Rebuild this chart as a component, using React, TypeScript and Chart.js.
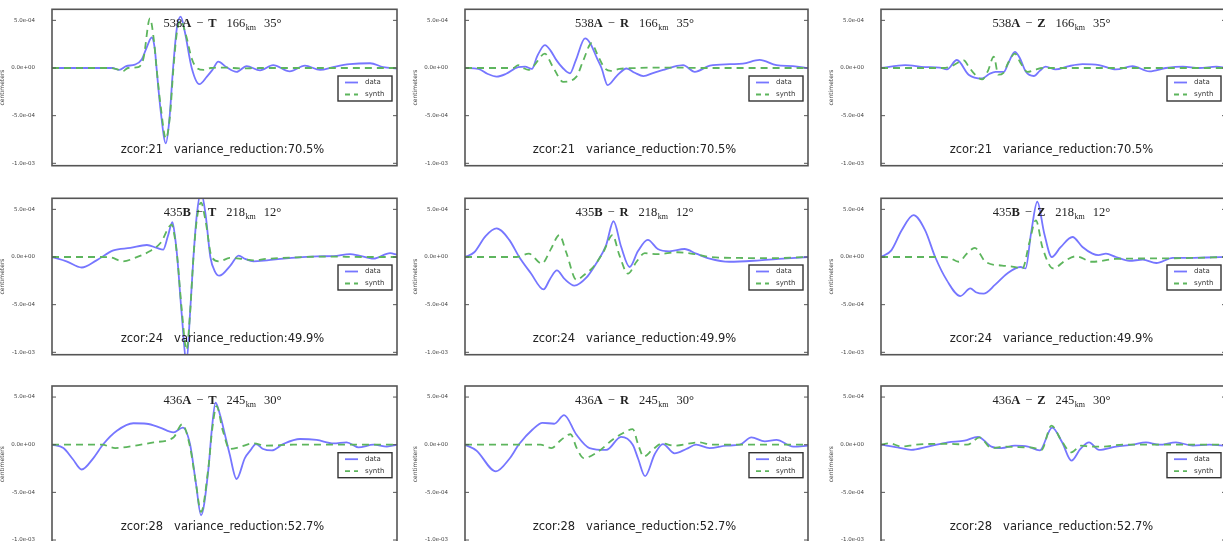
import React, { useEffect, useRef } from "react";
import { Chart, registerables } from "chart.js";

Chart.register(...registerables);

type Pt = [number, number];

// ---- text / labels -------------------------------------------------------
const STATION_NUMS = ["538", "435", "436"];
const STATION_LETTERS = ["A", "B", "A"];
const COMPONENTS = ["T", "R", "Z"];
const DISTANCES_KM = [166, 218, 245];
const AZIMUTHS_DEG = [35, 12, 30];
const ZCOR = [21, 24, 28];
const VARIANCE_REDUCTION = ["70.5", "49.9", "52.7"];
const SERIES_LABELS = ["data", "synth"];
const Y_LABEL = "centimeters";
const Y_TICKS = [5e-4, 0, -5e-4, -1e-3];
const Y_MIN = -1.025e-3;
const Y_MAX = 6.16e-4;

// ---- traces: [time (% of window), amplitude (1e-4)] ----------------------
const S538A_T_DATA: Pt[] = [[0,0],[12,0],[17.5,0],[19.5,-0.2],[21.5,0.2],[24,0.35],[26,0.9],[27.5,2.2],[28.9,3.2],[29.8,2.0],[30.3,0],[31.5,-4.5],[33,-7.9],[34,-5.5],[35.1,0],[36.2,4.2],[37.3,5.4],[38.5,3.8],[40.5,0],[42.7,-1.7],[44.9,-0.9],[46.5,-0.2],[48.2,0.66],[50.5,0.1],[53.5,-0.4],[56.4,0.2],[60.3,-0.25],[64.1,0.3],[68.9,-0.35],[73.3,0.25],[77.7,-0.2],[81.5,0.1],[86.3,0.4],[92.2,0.5],[96,0.1],[100,-0.05]];
const S538A_T_SYNTH: Pt[] = [[0,0],[17,0],[19,-0.15],[20.5,-0.35],[22,0],[25,0.1],[26.5,1.0],[28.4,5.2],[29.5,3.0],[30.3,0],[31.5,-4],[33,-7.4],[34.2,-5],[35.2,0],[36.3,4.0],[37.3,5.0],[38.8,3.5],[40.5,1.0],[42,0],[44,-0.2],[46,0],[50,0.05],[55,-0.05],[60,0],[100,0]];
const S538A_R_DATA: Pt[] = [[0,0],[3.9,-0.1],[6.5,-0.6],[9.2,-0.9],[12,-0.6],[15.5,0.1],[17.5,0.15],[19.5,-0.1],[21,1.2],[23.3,2.4],[25,1.8],[26.7,0.8],[28.5,0],[30.6,-0.56],[32.3,0.8],[35,3.1],[36.5,2.6],[38.5,1.0],[39.8,0],[41.6,-1.8],[44.2,-0.85],[47.1,-0.05],[49.5,-0.5],[52,-0.85],[55,-0.5],[57.8,-0.2],[60.5,0.1],[63.6,0.3],[67,-0.4],[71.4,0.25],[77.2,0.4],[81,0.45],[85.9,0.85],[90.8,0.3],[95.6,0.2],[100,0]];
const S538A_R_SYNTH: Pt[] = [[0,0],[14,0],[15.5,0.3],[17,0],[18.5,-0.2],[20,0.2],[23.3,1.5],[25.5,0.2],[28.7,-1.45],[32.5,-0.9],[34.5,0.8],[36.9,2.6],[38.5,1.5],[40.7,0],[42.5,-0.3],[45,-0.1],[50,0],[60,0.05],[70,0],[100,0]];
const S538A_Z_DATA: Pt[] = [[0,0],[7,0.3],[12.8,0.1],[17,0.05],[19.1,-0.15],[22,0.84],[25.4,-0.7],[29.3,-1.1],[31.5,-0.6],[33.2,-0.4],[35.6,-0.4],[37,0.6],[38.8,1.7],[40.3,1.0],[42,-0.4],[44.3,-0.84],[46,-0.3],[47.7,0.15],[50.6,-0.15],[54.5,0.2],[58.4,0.4],[63.2,0.3],[68.1,-0.15],[72.9,0.2],[77.8,-0.35],[82.6,0],[87.5,0.15],[92.3,0],[97.2,0.15],[100,0]];
const S538A_Z_SYNTH: Pt[] = [[0,0],[18,0],[20.5,0.2],[22,0.5],[24,0.8],[25.5,0.1],[27,-0.6],[29.3,-1.2],[31,-0.3],[32.7,1.2],[34,-0.7],[35.5,-0.5],[36.8,0.5],[38.8,1.5],[40.5,0.5],[42.5,-0.4],[44.5,-0.2],[47,0],[55,0],[100,0]];

const S435B_T_DATA: Pt[] = [[0,0],[4.2,-0.45],[8.6,-1.1],[12.9,-0.35],[17.8,0.7],[22.7,0.95],[27.5,1.26],[30.4,0.95],[32.2,0.77],[33.6,2.2],[34.9,3.65],[35.7,2.0],[36.3,0],[37.6,-6],[39,-11],[40,-6],[41,0],[42,4.5],[43.2,6.8],[44.5,4.5],[45.9,0],[47.2,-1.5],[48.5,-1.96],[51.7,-0.9],[54.1,0.14],[56,-0.2],[58.4,-0.45],[62.3,-0.35],[67.1,-0.17],[71.9,-0.03],[76.8,0.07],[81.6,0.1],[86.4,0.3],[89,0.15],[93.2,-0.17],[98,0.4],[100,0.25]];
const S435B_T_SYNTH: Pt[] = [[0,0],[14,0],[17,-0.05],[20.6,-0.45],[24,-0.1],[28.3,0.6],[31.5,1.5],[34.7,3.4],[35.6,2.0],[36.3,0],[37.6,-5.5],[39,-9.75],[40,-6],[41,0],[42,4.0],[43.2,5.7],[44.5,3.8],[46.3,0],[48.6,-0.45],[51.5,-0.1],[55,-0.2],[58.4,-0.35],[62,-0.2],[70,-0.05],[80,0.05],[90,0],[100,0]];
const S435B_R_DATA: Pt[] = [[0,0],[2.7,0.5],[6,2.2],[9.2,3.0],[12.9,1.8],[15.8,0],[19.2,-1.7],[22.9,-3.4],[24.8,-2.3],[26.8,-1.4],[29,-2.3],[31.9,-3.0],[35.3,-2.2],[38.2,-0.7],[41.1,1.2],[43.3,3.75],[45.5,1.1],[48,-1.05],[50.4,0.6],[53.3,1.8],[56.2,0.84],[59.6,0.6],[64,0.84],[67.4,0.35],[71.3,-0.17],[77.1,-0.5],[85.9,-0.35],[92.7,-0.17],[100,0]];
const S435B_R_SYNTH: Pt[] = [[0,0],[15,0],[18.6,0.35],[22.4,-0.7],[25,0.8],[27.5,2.3],[29.5,0.5],[32.5,-2.4],[35,-1.8],[37.4,-1.05],[40.3,0.5],[43,2.3],[45,0.2],[47.5,-1.75],[50,-0.5],[52.4,0.4],[56,0.3],[62,0.5],[67,0.3],[71.3,0],[80,-0.1],[90,-0.12],[100,0]];
const S435B_Z_DATA: Pt[] = [[0,0],[3,0.7],[6,2.8],[9.4,4.4],[12.8,2.8],[15.7,0],[19.1,-2.45],[23,-4.1],[25.9,-3.3],[27.5,-3.7],[29.7,-3.85],[33.1,-2.9],[36.5,-1.75],[40.4,-1.05],[41.9,-1.2],[43.5,2.5],[45.3,5.8],[47.3,2.5],[49.5,0],[52,1.0],[55.5,2.1],[58.4,1.05],[61.3,0.35],[63,0.2],[65.2,0.35],[68.1,0],[72,-0.4],[75.9,-0.28],[79.8,-0.63],[84.6,-0.1],[89.5,-0.1],[94.3,-0.05],[100,0]];
const S435B_Z_SYNTH: Pt[] = [[0,0],[18,0],[20,-0.1],[22.5,-0.5],[25,0.4],[27.2,0.95],[30.3,-0.5],[35.1,-0.9],[38,-1.0],[41,-1.2],[43,1.5],[44.9,3.85],[46.8,1.0],[49.9,-1.2],[53.5,-0.35],[56.5,0.07],[61.3,-0.5],[68,-0.2],[80,-0.15],[90,-0.1],[100,0]];

const S436A_T_DATA: Pt[] = [[0,0],[3.3,-0.35],[6,-1.5],[8.6,-2.6],[12,-1.4],[14.9,0.07],[18.8,1.46],[23.6,2.25],[27.4,2.2],[31.3,1.8],[35.2,1.3],[37.9,1.8],[40,0.07],[41.7,-4],[43.2,-7.4],[45.3,-2.7],[46.3,1.5],[47.4,4.4],[48.8,3.0],[50.1,1.1],[51.5,-1.0],[53.5,-3.6],[55.9,-1.4],[57.5,-0.6],[59.1,0.07],[61.2,-0.45],[63.7,-0.6],[67,0.07],[71.9,0.6],[76.7,0.5],[81.6,0.14],[85.4,0.25],[88.8,-0.28],[93.2,0],[97.1,-0.2],[100,0]];
const S436A_T_SYNTH: Pt[] = [[0,0],[14.5,0],[18.3,-0.35],[24.1,-0.1],[29.5,0.25],[35.2,0.75],[37.7,2.15],[40,-0.2],[41.7,-4],[43.2,-7.05],[45.3,-2.5],[46.5,1.8],[47.7,4.05],[49.5,1.5],[51.5,-0.45],[54,-0.3],[58.4,0.14],[62,-0.1],[70,0],[100,0]];
const S436A_R_DATA: Pt[] = [[0,0],[3.3,-0.6],[9,-2.8],[12.9,-1.5],[15.8,0.07],[19.7,1.6],[22.6,2.3],[26,2.2],[28.9,3.1],[32.4,1.1],[36.3,-0.35],[41.2,-0.55],[45.5,0.83],[48.9,0],[50.5,-1.5],[52.5,-3.3],[55.3,-1.0],[57.7,0.07],[61.1,-0.9],[64.5,-0.45],[67.4,0],[71.3,-0.35],[76.2,-0.1],[80.1,0],[83.5,0.76],[87.4,0.35],[90.8,0.5],[95.7,-0.2],[100,-0.1]];
const S436A_R_SYNTH: Pt[] = [[0,0],[22,0],[25.2,-0.35],[28,0.5],[30.8,1.1],[32.5,-0.3],[34.6,-1.4],[38.5,-0.8],[43.3,0.6],[46,1.2],[48.9,1.63],[50.5,0],[52.1,-1.25],[54.6,-0.55],[57.5,0.14],[61,-0.1],[68.2,0.25],[72,0],[80,0],[100,0]];
const S436A_Z_DATA: Pt[] = [[0,0],[4.8,-0.28],[8.7,-0.55],[13.6,-0.2],[19.4,0.25],[24.2,0.42],[28.1,0.83],[32,-0.2],[34.9,-0.35],[38.8,-0.1],[42.6,-0.2],[46,-0.6],[49.6,1.8],[52.5,0.25],[55.2,-1.67],[57.8,-0.45],[60.3,0.25],[63.2,-0.55],[68.1,-0.2],[72.9,0],[76.8,0.25],[80.7,0],[85.5,0.25],[90.4,-0.1],[95.2,0],[100,-0.1]];
const S436A_Z_SYNTH: Pt[] = [[0,0],[2.5,0.14],[6,-0.2],[10,0],[20,0.1],[25,0],[28.6,0.76],[32,-0.35],[36,-0.2],[40,-0.25],[44.5,-0.35],[46.5,-0.55],[49.4,2.0],[52.5,0.3],[55.2,-0.8],[58,-0.1],[61,-0.2],[64,-0.2],[70,0],[100,0]];

const DATA_TRACES: Pt[][][] = [
  [S538A_T_DATA, S538A_R_DATA, S538A_Z_DATA],
  [S435B_T_DATA, S435B_R_DATA, S435B_Z_DATA],
  [S436A_T_DATA, S436A_R_DATA, S436A_Z_DATA],
];
const SYNTH_TRACES: Pt[][][] = [
  [S538A_T_SYNTH, S538A_R_SYNTH, S538A_Z_SYNTH],
  [S435B_T_SYNTH, S435B_R_SYNTH, S435B_Z_SYNTH],
  [S436A_T_SYNTH, S436A_R_SYNTH, S436A_Z_SYNTH],
];

// ---- styling / layout -----------------------------------------------------
const DATA_COLOR = "#7676ff";
const SYNTH_COLOR = "#5db55d";
const FRAME_COLOR = "#555555";
const CANVAS_W = 410;
const CANVAS_H = 185;
const COL_LEFT = [0, 410, 820];
const ROW_TOP = [0, 188, 376];
const PLOT_LEFT_OFF = [52, 55, 61];
const PLOT_W = [345, 343, 345];
const PLOT_TOP_OFF = [9.3, 10.3, 10];
const PLOT_H = 156.4;

function sci(v: number): string {
  const s = v.toExponential(1);
  const [m, e] = s.split("e");
  const sign = e[0] === "-" ? "-" : "+";
  const d = e.replace(/^[+-]/, "").padStart(2, "0");
  return `${m}e${sign}${d}`;
}

function makeOverlay(r: number, c: number) {
  return {
    id: "overlay" + r + c,
    afterDraw(chart: any) {
      const { ctx, chartArea } = chart;
      const { left, top, right, bottom } = chartArea;
      const yScale = chart.scales.y;
      ctx.save();
      // frame
      ctx.strokeStyle = FRAME_COLOR;
      ctx.lineWidth = 1.6;
      ctx.strokeRect(left, top, right - left, bottom - top);
      // inward tick marks
      ctx.lineWidth = 1;
      Y_TICKS.forEach((v) => {
        const y = yScale.getPixelForValue(v);
        ctx.beginPath();
        ctx.moveTo(left, y);
        ctx.lineTo(left + 4, y);
        ctx.moveTo(right, y);
        ctx.lineTo(right - 4, y);
        ctx.stroke();
      });
      // y label
      ctx.fillStyle = "#444";
      ctx.font = '6px "DejaVu Sans"';
      ctx.textAlign = "center";
      ctx.textBaseline = "middle";
      ctx.save();
      ctx.translate(left - 50, (top + bottom) / 2);
      ctx.rotate(-Math.PI / 2);
      ctx.fillText(Y_LABEL, 0, 0);
      ctx.restore();

      // title (mathtext-like)
      const cx = (left + right) / 2 - 2;
      const base = top + 18;
      const serif = '"Liberation Serif"';
      const segs = [
        { t: STATION_NUMS[r], f: `12.5px ${serif}`, g: 0, dy: 0 },
        { t: STATION_LETTERS[r], f: `bold 12.5px ${serif}`, g: 0, dy: 0 },
        { t: "\u2212", f: `12.5px ${serif}`, g: 5, dy: 0 },
        { t: COMPONENTS[c], f: `bold 12.5px ${serif}`, g: 5, dy: 0 },
        { t: String(DISTANCES_KM[r]), f: `12.5px ${serif}`, g: 10, dy: 0 },
        { t: "km", f: `8px ${serif}`, g: 0.5, dy: 3 },
        { t: `${AZIMUTHS_DEG[r]}\u00b0`, f: `12.5px ${serif}`, g: 8, dy: 0 },
      ];
      let total = 0;
      const widths = segs.map((s) => {
        ctx.font = s.f;
        const w = ctx.measureText(s.t).width;
        total += s.g + w;
        return w;
      });
      let x = cx - total / 2;
      ctx.fillStyle = "#222";
      ctx.textAlign = "left";
      ctx.textBaseline = "alphabetic";
      segs.forEach((s, i) => {
        x += s.g;
        ctx.font = s.f;
        ctx.fillText(s.t, x, base + s.dy);
        x += widths[i];
      });

      // annotation
      ctx.font = '11.5px "DejaVu Sans"';
      ctx.textAlign = "center";
      ctx.textBaseline = "middle";
      ctx.fillStyle = "#222";
      ctx.fillText(
        `zcor:${ZCOR[r]}   variance_reduction:${VARIANCE_REDUCTION[r]}%`,
        (left + right) / 2 - 2,
        top + 141
      );

      // legend (center right)
      const lw = 54;
      const lh = 25;
      const lx = right - 5 - lw;
      const ly = (top + bottom) / 2 - lh / 2 + 1;
      ctx.fillStyle = "#fff";
      ctx.fillRect(lx, ly, lw, lh);
      ctx.strokeStyle = "#333";
      ctx.lineWidth = 1.4;
      ctx.strokeRect(lx, ly, lw, lh);
      const rows = [ly + 6.5, ly + 18.5];
      const cols = [DATA_COLOR, SYNTH_COLOR];
      rows.forEach((yy, i) => {
        ctx.strokeStyle = cols[i];
        ctx.lineWidth = 1.8;
        ctx.setLineDash(i === 1 ? [5, 4] : []);
        ctx.beginPath();
        ctx.moveTo(lx + 7, yy);
        ctx.lineTo(lx + 20, yy);
        ctx.stroke();
        ctx.setLineDash([]);
        ctx.fillStyle = "#333";
        ctx.font = '7px "DejaVu Sans"';
        ctx.textAlign = "left";
        ctx.textBaseline = "middle";
        ctx.fillText(SERIES_LABELS[i], lx + 27, yy);
      });
      ctx.restore();
    },
  };
}

function makeConfig(r: number, c: number): any {
  const toPts = (arr: Pt[]) => arr.map(([t, v]) => ({ x: t, y: v * 1e-4 }));
  const padTop = PLOT_TOP_OFF[r];
  const padBottom = CANVAS_H - padTop - PLOT_H;
  const padRight = CANVAS_W - PLOT_LEFT_OFF[c] - PLOT_W[c];
  return {
    type: "line",
    data: {
      datasets: [
        {
          label: SERIES_LABELS[0],
          data: toPts(DATA_TRACES[r][c]),
          borderColor: DATA_COLOR,
          borderWidth: 1.8,
          pointRadius: 0,
          cubicInterpolationMode: "monotone",
          fill: false,
          clip: 0,
          order: 1,
        },
        {
          label: SERIES_LABELS[1],
          data: toPts(SYNTH_TRACES[r][c]),
          borderColor: SYNTH_COLOR,
          borderWidth: 1.8,
          borderDash: [7, 5],
          pointRadius: 0,
          cubicInterpolationMode: "monotone",
          fill: false,
          clip: 0,
          order: 0,
        },
      ],
    },
    options: {
      responsive: false,
      animation: false,
      devicePixelRatio: 1,
      events: [],
      layout: {
        autoPadding: false,
        padding: { left: 0, top: padTop, right: padRight, bottom: padBottom },
      },
      plugins: { legend: { display: false }, tooltip: { enabled: false }, title: { display: false } },
      scales: {
        x: { type: "linear", min: 0, max: 100, display: false },
        y: {
          type: "linear",
          min: Y_MIN,
          max: Y_MAX,
          afterFit: (s: any) => {
            s.width = PLOT_LEFT_OFF[c];
            s.paddingTop = 0;
            s.paddingBottom = 0;
          },
          afterBuildTicks: (s: any) => {
            s.ticks = Y_TICKS.map((v) => ({ value: v }));
          },
          grid: { display: false, drawTicks: false },
          border: { display: false },
          ticks: {
            padding: 17,
            color: "#444",
            font: { size: 5.5, family: "DejaVu Sans" },
            callback: (v: number) => sci(v),
          },
        },
      },
    },
    plugins: [makeOverlay(r, c)],
  };
}

function Panel({ r, c }: { r: number; c: number }) {
  const ref = useRef<HTMLCanvasElement | null>(null);
  useEffect(() => {
    const canvas = ref.current;
    if (!canvas) return;
    const chart = new Chart(canvas, makeConfig(r, c));
    return () => chart.destroy();
  }, [r, c]);
  return (
    <canvas
      ref={ref}
      width={CANVAS_W}
      height={CANVAS_H}
      style={{ position: "absolute", left: COL_LEFT[c], top: ROW_TOP[r], width: CANVAS_W, height: CANVAS_H }}
    />
  );
}

export default function App() {
  const cells: JSX.Element[] = [];
  for (let r = 0; r < 3; r++) {
    for (let c = 0; c < 3; c++) {
      cells.push(<Panel key={`${r}-${c}`} r={r} c={c} />);
    }
  }
  return (
    <div
      style={{
        position: "absolute",
        left: 0,
        top: 0,
        width: 1223,
        height: 541,
        overflow: "hidden",
        background: "#fff",
      }}
    >
      {cells}
    </div>
  );
}
